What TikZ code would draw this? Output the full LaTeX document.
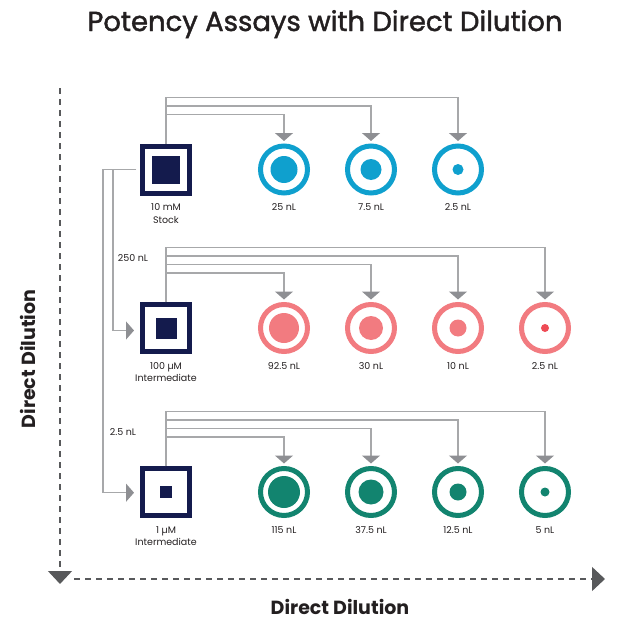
\documentclass[tikz,border=0pt]{standalone}
\usepackage{fontspec}
\setmainfont{Poppins}
\newfontfamily\headfont{Poppins}[FakeBold=1.5]
\usetikzlibrary{positioning,arrows.meta}

\definecolor{navy}{HTML}{141B4D}
\definecolor{sky}{HTML}{0FA0CE}
\definecolor{rose}{HTML}{F27B80}
\definecolor{scarlet}{HTML}{EE4B55}
\definecolor{teal}{HTML}{12846F}
\definecolor{wire}{HTML}{A7A8AA}
\definecolor{tip}{HTML}{8E8F93}
\definecolor{ink}{HTML}{231F20}
\definecolor{axisgray}{HTML}{58595B}

\begin{document}
\begin{tikzpicture}[x=1pt,y=1pt,node distance=35pt,
	stock/.style={
		% The frame of the source plate:
		rectangle,
		minimum size=47pt,
		inner sep=0pt,
		line width=5pt,
		draw=navy
		},
	well/.style={
		% A destination well, the ring only
		circle,
		minimum size=47pt,
		inner sep=0pt,
		line width=5pt
		},
	tag/.style={font=\fontsize{9.5}{12.5}\selectfont, text=ink, align=center, inner sep=0pt},
	feed/.style={draw=wire, line width=1.3pt,
		-{Triangle[width=18pt,length=8pt,color=tip]}, shorten >=2.5pt},
	axis/.style={draw=axisgray, line width=1.2pt, dash pattern=on 6pt off 5pt,
		-{Triangle[width=24pt,length=13pt,color=axisgray]}},
	axislab/.style={font=\fontsize{19}{22}\selectfont\bfseries, text=ink, inner sep=0pt}]

	\useasboundingbox (0,0) rectangle (622,-621);

	\node (title) [font=\headfont\fontsize{27.5}{32}\selectfont, text=ink, anchor=base] at (325,-31) {Potency Assays with Direct Dilution};

	% stock and intermediates
	\node (s1) [stock] at (166,-169.5) {};
	\node (s2) [stock] at (166,-328) {};
	\node (s3) [stock] at (166,-492) {};
	\fill[navy] ([shift={(-14,-14)}]s1.center) rectangle ([shift={(14,14)}]s1.center);
	\fill[navy] ([shift={(-10.5,-10.5)}]s2.center) rectangle ([shift={(10.5,10.5)}]s2.center);
	\fill[navy] ([shift={(-6,-6)}]s3.center) rectangle ([shift={(6,6)}]s3.center);
	\node (t1) [tag, below=8pt of s1] {10 mM\\Stock};
	\node (t2) [tag, below=8pt of s2] {100 µM\\Intermediate};
	\node (t3) [tag, below=8pt of s3] {1 µM\\Intermediate};

	% first row of wells
	\node (w11) [well, draw=sky, right=66pt of s1] {};
	\node (w12) [well, draw=sky, right=of w11] {};
	\node (w13) [well, draw=sky, right=of w12] {};
	\fill[sky] (w11) circle (13.5pt);
	\fill[sky] (w12) circle (10.5pt);
	\fill[sky] (w13) circle (5.5pt);
	\node [tag, below=8pt of w11] {25 nL};
	\node [tag, below=8pt of w12] {7.5 nL};
	\node [tag, below=8pt of w13] {2.5 nL};

	% second row of wells
	\node (w21) [well, draw=rose, right=66pt of s2] {};
	\node (w22) [well, draw=rose, right=of w21] {};
	\node (w23) [well, draw=rose, right=of w22] {};
	\node (w24) [well, draw=rose, right=of w23] {};
	\fill[rose] (w21) circle (15pt);
	\fill[rose] (w22) circle (12pt);
	\fill[rose] (w23) circle (8.5pt);
	\fill[scarlet] (w24) circle (4pt);
	\node [tag, below=8pt of w21] {92.5 nL};
	\node [tag, below=8pt of w22] {30 nL};
	\node [tag, below=8pt of w23] {10 nL};
	\node [tag, below=8pt of w24] {2.5 nL};

	% third row of wells
	\node (w31) [well, draw=teal, right=66pt of s3] {};
	\node (w32) [well, draw=teal, right=of w31] {};
	\node (w33) [well, draw=teal, right=of w32] {};
	\node (w34) [well, draw=teal, right=of w33] {};
	\fill[teal] (w31) circle (16pt);
	\fill[teal] (w32) circle (12.5pt);
	\fill[teal] (w33) circle (8.5pt);
	\fill[teal] (w34) circle (4.5pt);
	\node [tag, below=8pt of w31] {115 nL};
	\node [tag, below=8pt of w32] {37.5 nL};
	\node [tag, below=8pt of w33] {12.5 nL};
	\node [tag, below=8pt of w34] {5 nL};

	% transfers into the wells
	\foreach \w/\h in {1/29,2/37.5,3/46}
		\draw[feed] (s1.north) |- ([yshift=\h pt]w1\w.north) -- (w1\w);
	\foreach \w/\h in {1/29,2/37.5,3/46,4/54.5}
		\draw[feed] (s2.north) |- ([yshift=\h pt]w2\w.north) -- (w2\w);
	\foreach \w/\h in {1/29,2/37.5,3/46,4/54.5}
		\draw[feed] (s3.north) |- ([yshift=\h pt]w3\w.north) -- (w3\w);

	% dilution of the stock
	\draw[feed, shorten >=6pt] ([xshift=-4pt]s1.west) -- ++(-23,0) |- ([yshift=-2.5pt]s2.west);
	\draw[feed, shorten >=6pt] ([xshift=-4pt]s1.west) -- ++(-33,0) |- ([yshift=-0.7pt]s3.west);
	\node (v2) [tag] at (133,-258) {250 nL};
	\node (v3) [tag] at (123,-432) {2.5 nL};

	% axes
	\coordinate (ytop) at (60,-88);
	\coordinate (yend) at (60,-584);
	\coordinate (xstart) at (74,-579);
	\coordinate (xend) at (605,-579);
	\draw[axis] (ytop) -- (yend);
	\draw[axis] (xstart) -- (xend);
	\node (ylab) [axislab, rotate=90, anchor=base] at (35,-359) {Direct Dilution};
	\node (xlab) [axislab, anchor=base] at (340,-614) {Direct Dilution};

\end{tikzpicture}
\end{document}
